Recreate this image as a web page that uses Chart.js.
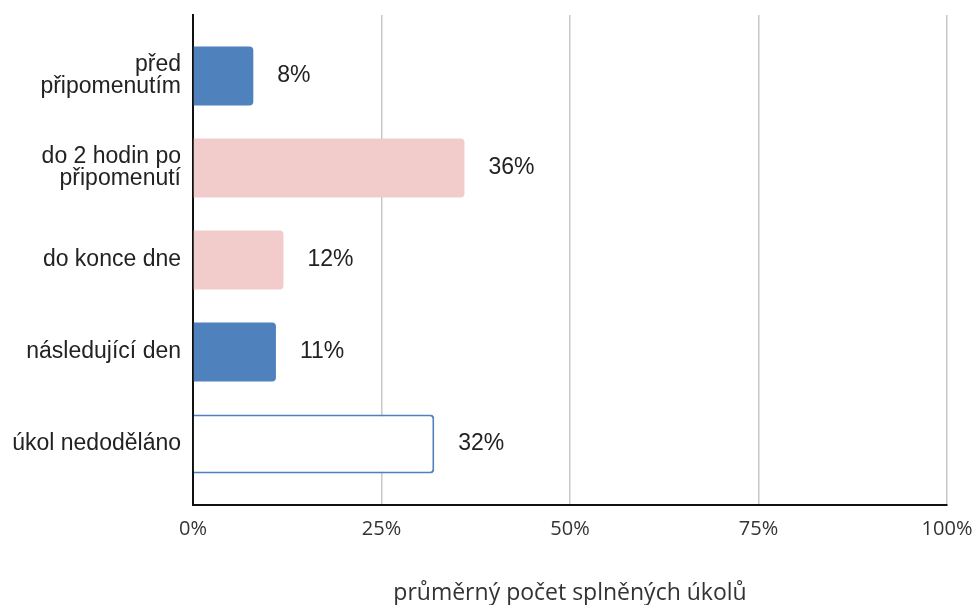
<!DOCTYPE html>
<html>
<head>
<meta charset="utf-8">
<script src="https://cdn.jsdelivr.net/npm/chart.js@4"></script>
<style>
  body { margin: 0; background: #fff; }
  #wrap { width: 975px; height: 605px; }
</style>
</head>
<body>
<div id="wrap"><canvas id="reminderChart"></canvas></div>
<script>
const categories = [
    ['před', 'připomenutím'],
    ['do 2 hodin po', 'připomenutí'],
    'do konce dne',
    'následující den',
    'úkol nedoděláno'
];
const shares = [8, 36, 12, 11, 32];
const barFill = ['#4f81bd', '#f2cbcb', '#f2cbcb', '#4f81bd', '#ffffff'];
const barEdge = ['#4f81bd', '#f2cbcb', '#f2cbcb', '#4f81bd', '#4f81bd'];
const xTicks = [0, 25, 50, 75, 100];
const axisTitle = 'průměrný počet splněných úkolů';

// percentage text to the right of every bar
const valueLabels = {
    id: 'valueLabels',
    afterDatasetsDraw(chart) {
        const ctx = chart.ctx;
        const meta = chart.getDatasetMeta(0);
        ctx.save();
        ctx.font = '23px "Liberation Sans", Arial, sans-serif';
        ctx.fillStyle = '#222';
        ctx.textAlign = 'left';
        ctx.textBaseline = 'middle';
        meta.data.forEach(function (bar, i) {
            ctx.fillText(shares[i] + '%', bar.x + 24, bar.y);
        });
        ctx.restore();
    }
};

const ctx = document.getElementById('reminderChart').getContext('2d');

new Chart(ctx, {
    type: 'bar',
    data: {
        labels: categories,
        datasets: [{
            data: shares,
            backgroundColor: barFill,
            borderColor: barEdge,
            borderWidth: [0, 0, 0, 0, 2],
            borderSkipped: 'start',
            borderRadius: { topRight: 4, bottomRight: 4 },
            barPercentage: 0.64,
            categoryPercentage: 1
        }]
    },
    options: {
        indexAxis: 'y',
        responsive: true,
        maintainAspectRatio: false,
        animation: false,
        layout: { padding: { top: 15, right: 28, left: 0, bottom: 0 } },
        plugins: {
            legend: { display: false },
            tooltip: { enabled: false }
        },
        scales: {
            x: {
                min: 0,
                max: 100,
                afterBuildTicks: function (scale) {
                    scale.ticks = xTicks.map(v => ({ value: v }));
                },
                afterFit: function (scale) {
                    scale.height = 100;
                    scale.paddingRight = 0;
                },
                grid: {
                    color: '#c8c8c8',
                    lineWidth: 1.5,
                    drawTicks: false
                },
                border: { display: true, color: '#111', width: 2 },
                ticks: {
                    padding: 12,
                    color: '#333',
                    font: { family: '"Open Sans", sans-serif', size: 20 },
                    callback: v => v + '%'
                },
                title: {
                    display: true,
                    text: axisTitle,
                    color: '#333',
                    font: { family: '"Open Sans", sans-serif', size: 23 },
                    padding: { top: 30, bottom: -2 }
                }
            },
            y: {
                afterBuildTicks: function (scale) {
                    // leave a little room above the first and below the last bar
                    scale._startValue -= 0.163;
                    scale._valueRange += 0.326;
                },
                afterFit: function (scale) {
                    scale.width = 193;
                    scale.paddingTop = 0;
                },
                grid: { display: false },
                border: { display: true, color: '#111', width: 2 },
                ticks: {
                    padding: 4,
                    color: '#222',
                    font: { family: '"Liberation Sans", Arial, sans-serif', size: 23, lineHeight: 0.96 }
                }
            }
        }
    },
    plugins: [valueLabels]
});
</script>
</body>
</html>
